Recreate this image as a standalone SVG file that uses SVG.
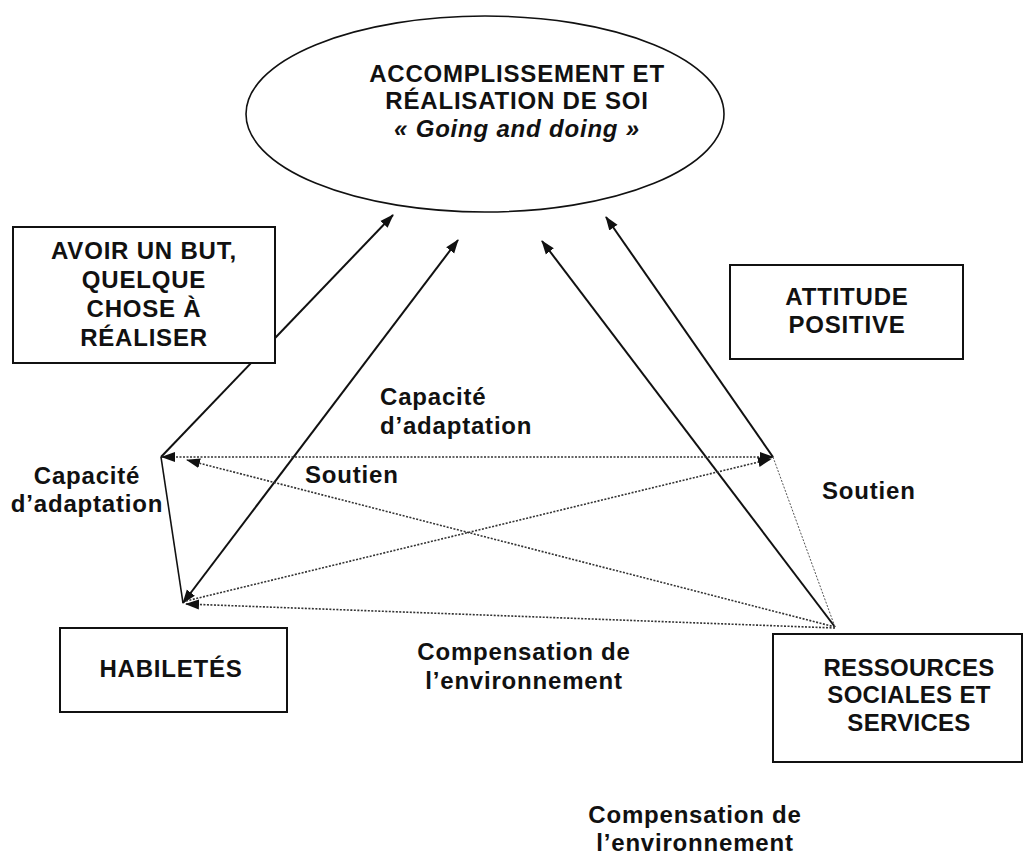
<svg xmlns="http://www.w3.org/2000/svg" width="1036" height="854" viewBox="0 0 1036 854">
<style>
text{font-family:"Liberation Sans",Arial,sans-serif;font-weight:bold;font-size:24px;fill:#111;letter-spacing:0.8px}
.c{text-anchor:middle}
.box{fill:#fff;stroke:#111;stroke-width:2}
.solid{stroke:#111;stroke-width:2;fill:none}
.dot{stroke:#333;stroke-width:1.6;stroke-dasharray:2 1.5;fill:none}
.thin{stroke:#555;stroke-width:1;stroke-dasharray:2 1.5;fill:none}
</style>
<defs>
<marker id="ah" markerUnits="userSpaceOnUse" markerWidth="14" markerHeight="12" refX="13" refY="5" orient="auto-start-reverse" viewBox="0 0 14 10">
<path d="M0,0 L14,5 L0,10 z" fill="#111"/>
</marker>
</defs>
<rect width="1036" height="854" fill="#fff"/>
<g id="connectors">
<line class="solid" x1="161" y1="457" x2="393" y2="215" marker-end="url(#ah)"/>
<line class="solid" x1="458" y1="240" x2="183" y2="603" marker-start="url(#ah)" marker-end="url(#ah)"/>
<line class="solid" x1="161" y1="457" x2="183" y2="603" style="stroke-width:1.6"/>
<line class="solid" x1="835" y1="627" x2="542" y2="241" marker-end="url(#ah)"/>
<line class="solid" x1="773" y1="457" x2="606" y2="217" marker-end="url(#ah)"/>
<line class="dot" x1="162" y1="457" x2="773" y2="457" marker-start="url(#ah)" marker-end="url(#ah)"/>
<line class="dot" x1="835" y1="627" x2="187" y2="460" marker-end="url(#ah)"/>
<line class="dot" x1="186" y1="601" x2="771" y2="459" marker-end="url(#ah)"/>
<line class="dot" x1="835" y1="628" x2="186" y2="604" marker-end="url(#ah)"/>
<line class="thin" x1="773" y1="457" x2="835" y2="627"/>
</g>
<g id="accomplissement">
<ellipse cx="485" cy="114" rx="239" ry="98" fill="none" stroke="#111" stroke-width="1.6"/>
<text class="c" x="517" y="82">ACCOMPLISSEMENT ET</text>
<text class="c" x="517" y="109">RÉALISATION DE SOI</text>
<text class="c" x="517" y="137" font-style="italic">« Going and doing »</text>
</g>
<g id="but">
<rect class="box" x="13" y="227" width="262" height="136"/>
<text class="c" x="144" y="259">AVOIR UN BUT,</text>
<text class="c" x="144" y="288">QUELQUE</text>
<text class="c" x="144" y="317">CHOSE À</text>
<text class="c" x="144" y="346">RÉALISER</text>
</g>
<g id="attitude">
<rect class="box" x="730" y="265" width="233" height="94"/>
<text class="c" x="847" y="305">ATTITUDE</text>
<text class="c" x="847" y="333">POSITIVE</text>
</g>
<g id="habiletes">
<rect class="box" x="60" y="628" width="227" height="84"/>
<text class="c" x="171" y="677">HABILETÉS</text>
</g>
<g id="ressources">
<rect class="box" x="773" y="634" width="249" height="128"/>
<text class="c" x="909" y="676" style="letter-spacing:0.3px">RESSOURCES</text>
<text class="c" x="909" y="703" style="letter-spacing:0.3px">SOCIALES ET</text>
<text class="c" x="909" y="731" style="letter-spacing:0.3px">SERVICES</text>
</g>
<g id="labels">
<text class="c" x="87" y="484">Capacité</text>
<text class="c" x="87" y="512">d’adaptation</text>
<text x="380" y="405">Capacité</text>
<text x="380" y="434">d’adaptation</text>
<text x="305" y="483">Soutien</text>
<text x="822" y="499">Soutien</text>
<text class="c" x="524" y="660">Compensation de</text>
<text class="c" x="524" y="689">l’environnement</text>
<text class="c" x="695" y="823">Compensation de</text>
<text class="c" x="695" y="851">l’environnement</text>
</g>
</svg>
